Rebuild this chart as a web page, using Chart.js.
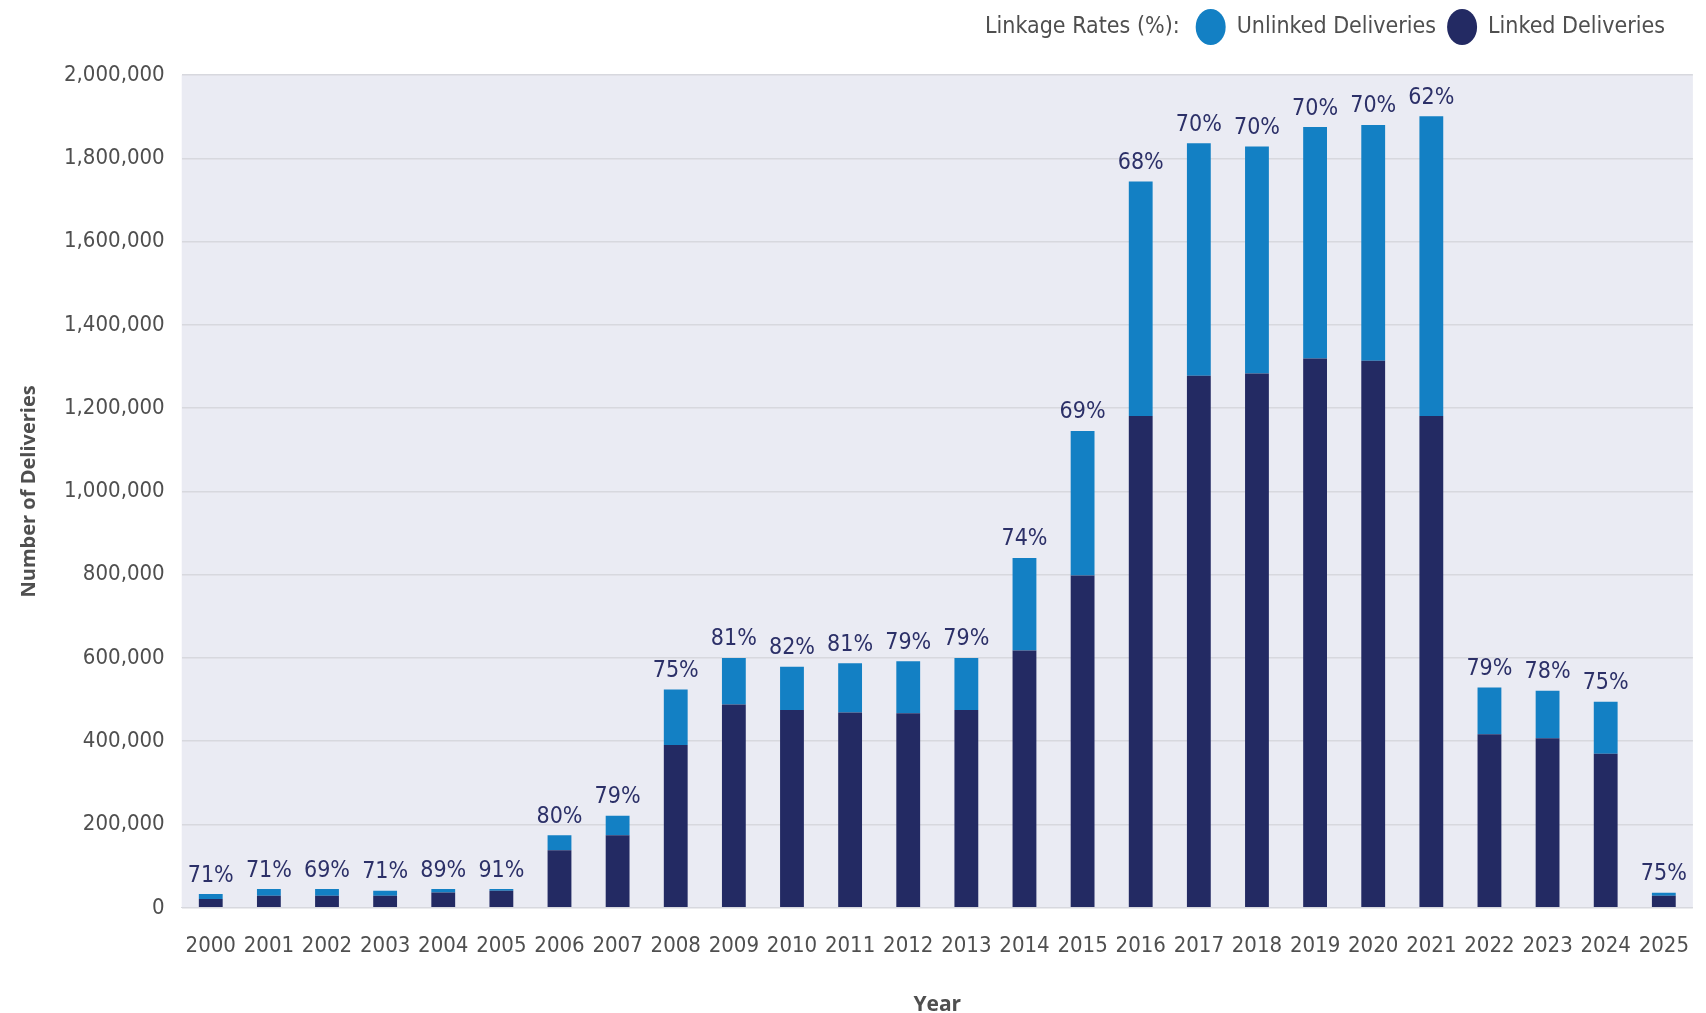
<!DOCTYPE html>
<html>
<head>
<meta charset="utf-8">
<script src="https://cdn.jsdelivr.net/npm/chart.js@4.4.0/dist/chart.umd.min.js"></script>
<style>
  html, body { margin: 0; padding: 0; background: #fff; }
  #wrap { width: 1706px; height: 1013px; }
</style>
</head>
<body>
<div id="wrap"><canvas id="myChart"></canvas></div>
<script>
const years = ["2000","2001","2002","2003","2004","2005","2006","2007","2008","2009","2010","2011","2012",
  "2013","2014","2015","2016","2017","2018","2019","2020","2021","2022","2023","2024","2025"];
const linked = [21000, 29000, 29000, 29000, 37000, 41000, 138000, 174000, 391000, 488000, 475000, 469000, 467000,
  475000, 618000, 798000, 1181000, 1278000, 1283000, 1319000, 1314000, 1181000, 417000, 407000, 370000, 29000];
const unlinked = [12000, 16000, 16000, 12000, 8000, 4000, 36000, 47000, 133000, 112000, 104000, 118000, 125000,
  125000, 222000, 347000, 563000, 558000, 545000, 556000, 566000, 720000, 112000, 114000, 125000, 7000];
const rates = ["71%","71%","69%","71%","89%","91%","80%","79%","75%","81%","82%","81%","79%",
  "79%","74%","69%","68%","70%","70%","70%","70%","62%","79%","78%","75%","75%"];
const yTicks = [0, 200000, 400000, 600000, 800000, 1000000, 1200000, 1400000, 1600000, 1800000, 2000000];

const colors = {
  unlinked: "#1380c4",
  linked: "#232a63",
  plotBg: "#eaebf3",
  grid: "#d7d8de",
  text: "#4f4f4f",
  label: "#2c3068",
};
const narrow = "'DejaVu Sans Condensed', 'Liberation Sans Narrow', sans-serif";

// light plot background
const plotBg = {
  id: "plotBg",
  beforeDraw(chart) {
    const { ctx, chartArea: a } = chart;
    ctx.save();
    ctx.fillStyle = colors.plotBg;
    ctx.fillRect(a.left, a.top, a.right - a.left, a.bottom - a.top);
    ctx.restore();
  }
};

// percent labels on top of each stack + the legend row
const extras = {
  id: "extras",
  afterDraw(chart) {
    const { ctx } = chart;
    const meta = chart.getDatasetMeta(1);
    ctx.save();
    ctx.fillStyle = colors.label;
    ctx.font = "23px " + narrow;
    ctx.textAlign = "center";
    ctx.textBaseline = "bottom";
    meta.data.forEach((bar, i) => {
      ctx.fillText(rates[i], bar.x, bar.y - 7);
    });

    // legend, laid out right to left
    const ds = chart.data.datasets;
    const items = [ds[1], ds[0]];
    const y = 27;
    let x = 1665;
    ctx.font = "23px " + narrow;
    ctx.textBaseline = "middle";
    ctx.textAlign = "right";
    for (let i = items.length - 1; i >= 0; i--) {
      const it = items[i];
      ctx.fillStyle = colors.text;
      ctx.fillText(it.label, x, y);
      x -= ctx.measureText(it.label).width + 26;
      ctx.fillStyle = it.backgroundColor;
      ctx.beginPath();
      ctx.ellipse(x, y, 15, 18, 0, 0, Math.PI * 2);
      ctx.fill();
      x -= 26;
    }
    ctx.fillStyle = colors.text;
    ctx.fillText("Linkage Rates (%):", x - 5, y);
    ctx.restore();
  }
};

new Chart(document.getElementById("myChart"), {
  type: "bar",
  data: {
    labels: years,
    datasets: [
      { label: "Linked Deliveries", data: linked, backgroundColor: colors.linked },
      { label: "Unlinked Deliveries", data: unlinked, backgroundColor: colors.unlinked },
    ],
  },
  options: {
    responsive: true,
    maintainAspectRatio: false,
    animation: false,
    layout: { padding: { left: 13, right: -8, top: 75, bottom: 0 } },
    datasets: { bar: { categoryPercentage: 0.41, barPercentage: 1 } },
    plugins: {
      tooltip: { enabled: false },
      legend: { display: false },
    },
    scales: {
      x: {
        stacked: true,
        grid: { display: false },
        border: { color: colors.grid },
        ticks: { color: colors.text, font: { family: narrow, size: 22 }, padding: 17, maxRotation: 0 },
        title: {
          display: true, text: "Year", color: colors.text,
          font: { family: "'Open Sans', sans-serif", size: 21, weight: "bold", lineHeight: 0.8 },
          padding: { top: 20, bottom: 0 },
        },
      },
      y: {
        stacked: true,
        min: 0,
        max: 2000000,
        afterBuildTicks(axis) { axis.ticks = yTicks.map(v => ({ value: v })); },
        grid: { color: colors.grid, lineWidth: 1.5, drawTicks: false },
        border: { display: false },
        ticks: {
          color: colors.text,
          font: { family: narrow, size: 22 },
          padding: 17,
          callback: v => v.toLocaleString("en-US"),
        },
        title: {
          display: true, text: "Number of Deliveries", color: colors.text,
          font: { family: "'Open Sans', sans-serif", size: 20, weight: "bold" },
          padding: { top: 4, bottom: 6 },
        },
      },
    },
  },
  plugins: [plotBg, extras],
});
</script>
</body>
</html>
